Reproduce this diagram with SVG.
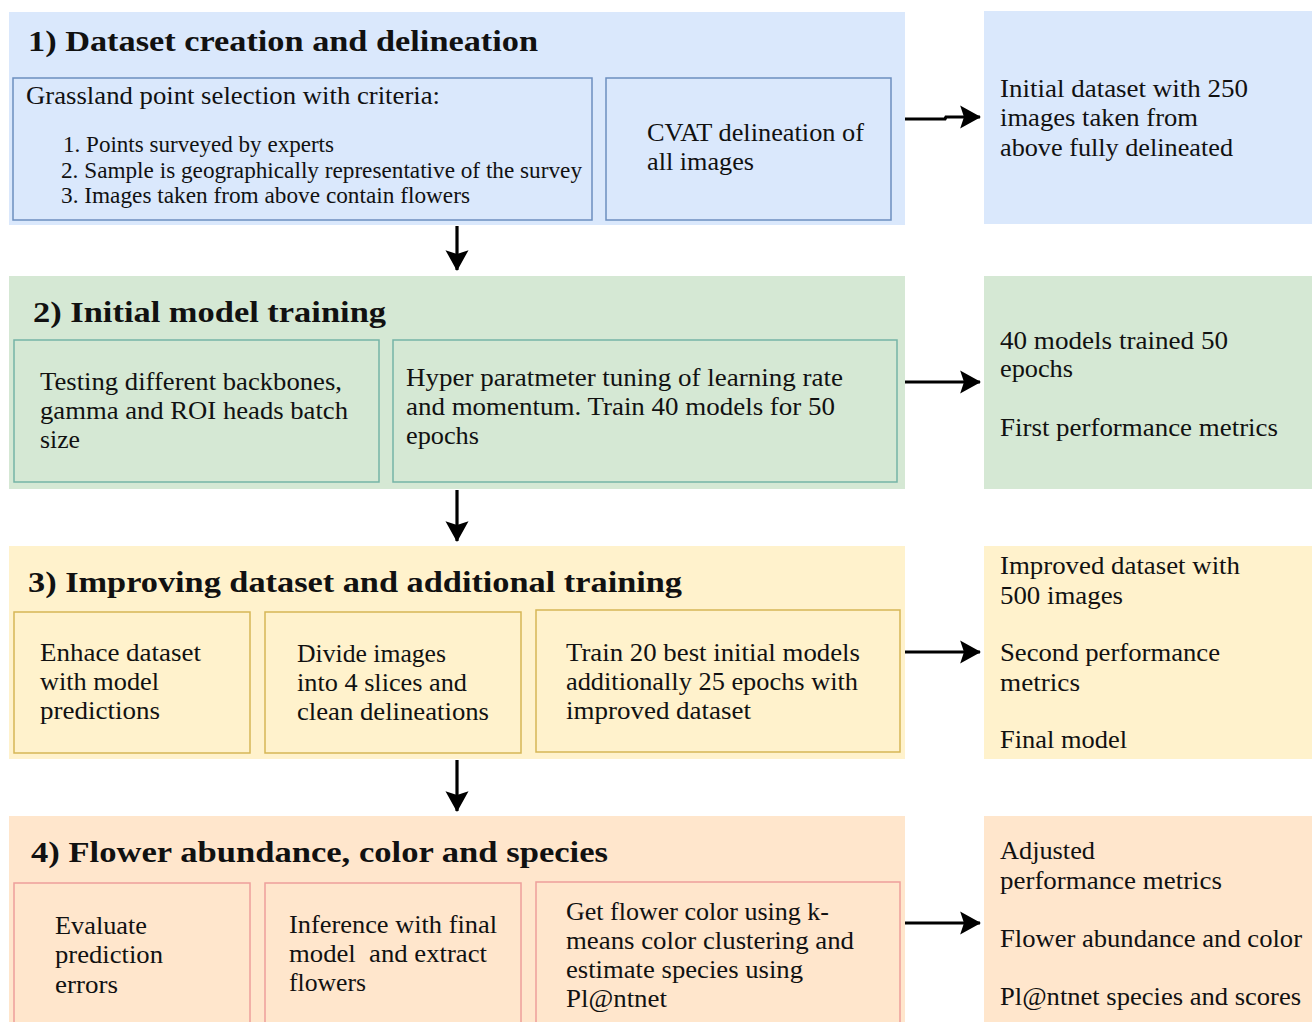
<svg xmlns="http://www.w3.org/2000/svg" width="1312" height="1022" viewBox="0 0 1312 1022">
<style>
text{font-family:"Liberation Serif","DejaVu Serif",serif;fill:#111}
.t{font-size:29.5px;font-weight:bold}
.b{font-size:25px}
.s{font-size:22.5px}
.blue{fill:#dae8fc}
.green{fill:#d5e8d4}
.yellow{fill:#fff2cc}
.orange{fill:#ffe6cc}
.ib{fill:#dae8fc;stroke:#6c8ebf;stroke-width:1.5}
.ig{fill:#d5e8d4;stroke:#75b4a6;stroke-width:1.5}
.iy{fill:#fff2cc;stroke:#d6b656;stroke-width:1.5}
.io{fill:#ffe6cc;stroke:#ee9f9b;stroke-width:1.5}
.c{fill:none;stroke:#000;stroke-width:3.2}
</style>
<defs>
<marker id="ah" markerWidth="8" markerHeight="8" refX="6.2" refY="4" orient="auto" markerUnits="strokeWidth">
<path d="M0,0.4 L6.5,4 L0,7.6 L1.2,4 Z" fill="#000"/>
</marker>
</defs>

<g id="stage1">
<rect class="blue" x="9" y="12" width="896" height="213"/>
<text class="t" x="28" y="51" textLength="510" lengthAdjust="spacingAndGlyphs">1) Dataset creation and delineation</text>
</g>
<g id="criteria">
<rect class="ib" x="13" y="78" width="579" height="142"/>
<text class="b" x="26" y="104" textLength="414" lengthAdjust="spacingAndGlyphs">Grassland point selection with criteria:</text>
<text class="s" x="63" y="152" textLength="271" lengthAdjust="spacingAndGlyphs">1. Points surveyed by experts</text>
<text class="s" x="61" y="178" textLength="521" lengthAdjust="spacingAndGlyphs">2. Sample is geographically representative of the survey</text>
<text class="s" x="61" y="203" textLength="409" lengthAdjust="spacingAndGlyphs">3. Images taken from above contain flowers</text>
</g>
<g id="cvat">
<rect class="ib" x="606" y="78" width="285" height="142"/>
<text class="b" x="647" y="141" textLength="217" lengthAdjust="spacingAndGlyphs">CVAT delineation of</text>
<text class="b" x="647" y="170" textLength="107" lengthAdjust="spacingAndGlyphs">all images</text>
</g>
<g id="out1">
<rect class="blue" x="984" y="11" width="328" height="213"/>
<text class="b" x="1000" y="97" textLength="248" lengthAdjust="spacingAndGlyphs">Initial dataset with 250</text>
<text class="b" x="1000" y="126" textLength="198" lengthAdjust="spacingAndGlyphs">images taken from</text>
<text class="b" x="1000" y="156" textLength="233" lengthAdjust="spacingAndGlyphs">above fully delineated</text>
</g>

<g id="stage2">
<rect class="green" x="9" y="276" width="896" height="213"/>
<text class="t" x="33" y="322" textLength="353" lengthAdjust="spacingAndGlyphs">2) Initial model training</text>
</g>
<g id="backbones">
<rect class="ig" x="14" y="340" width="365" height="142"/>
<text class="b" x="40" y="390" textLength="302" lengthAdjust="spacingAndGlyphs">Testing different backbones,</text>
<text class="b" x="40" y="419" textLength="308" lengthAdjust="spacingAndGlyphs">gamma and ROI heads batch</text>
<text class="b" x="40" y="448" textLength="40" lengthAdjust="spacingAndGlyphs">size</text>
</g>
<g id="hyper">
<rect class="ig" x="393" y="340" width="504" height="142"/>
<text class="b" x="406" y="386" textLength="437" lengthAdjust="spacingAndGlyphs">Hyper paratmeter tuning of learning rate</text>
<text class="b" x="406" y="415" textLength="429" lengthAdjust="spacingAndGlyphs">and momentum. Train 40 models for 50</text>
<text class="b" x="406" y="444" textLength="73" lengthAdjust="spacingAndGlyphs">epochs</text>
</g>
<g id="out2">
<rect class="green" x="984" y="276" width="328" height="213"/>
<text class="b" x="1000" y="349" textLength="228" lengthAdjust="spacingAndGlyphs">40 models trained 50</text>
<text class="b" x="1000" y="377" textLength="73" lengthAdjust="spacingAndGlyphs">epochs</text>
<text class="b" x="1000" y="436" textLength="278" lengthAdjust="spacingAndGlyphs">First performance metrics</text>
</g>

<g id="stage3">
<rect class="yellow" x="9" y="546" width="896" height="213"/>
<text class="t" x="28" y="592" textLength="654" lengthAdjust="spacingAndGlyphs">3) Improving dataset and additional training</text>
</g>
<g id="enhance">
<rect class="iy" x="14" y="612" width="236" height="141"/>
<text class="b" x="40" y="661" textLength="161" lengthAdjust="spacingAndGlyphs">Enhace dataset</text>
<text class="b" x="40" y="690" textLength="119" lengthAdjust="spacingAndGlyphs">with model</text>
<text class="b" x="40" y="719" textLength="120" lengthAdjust="spacingAndGlyphs">predictions</text>
</g>
<g id="divide">
<rect class="iy" x="265" y="612" width="256" height="141"/>
<text class="b" x="297" y="662" textLength="149" lengthAdjust="spacingAndGlyphs">Divide images</text>
<text class="b" x="297" y="691" textLength="170" lengthAdjust="spacingAndGlyphs">into 4 slices and</text>
<text class="b" x="297" y="720" textLength="192" lengthAdjust="spacingAndGlyphs">clean delineations</text>
</g>
<g id="train20">
<rect class="iy" x="536" y="610" width="364" height="142"/>
<text class="b" x="566" y="661" textLength="294" lengthAdjust="spacingAndGlyphs">Train 20 best initial models</text>
<text class="b" x="566" y="690" textLength="292" lengthAdjust="spacingAndGlyphs">additionally 25 epochs with</text>
<text class="b" x="566" y="719" textLength="185" lengthAdjust="spacingAndGlyphs">improved dataset</text>
</g>
<g id="out3">
<rect class="yellow" x="984" y="546" width="328" height="213"/>
<text class="b" x="1000" y="574" textLength="240" lengthAdjust="spacingAndGlyphs">Improved dataset with</text>
<text class="b" x="1000" y="604" textLength="123" lengthAdjust="spacingAndGlyphs">500 images</text>
<text class="b" x="1000" y="661" textLength="220" lengthAdjust="spacingAndGlyphs">Second performance</text>
<text class="b" x="1000" y="691" textLength="80" lengthAdjust="spacingAndGlyphs">metrics</text>
<text class="b" x="1000" y="748" textLength="127" lengthAdjust="spacingAndGlyphs">Final model</text>
</g>

<g id="stage4">
<rect class="orange" x="9" y="816" width="896" height="210"/>
<text class="t" x="31" y="862" textLength="577" lengthAdjust="spacingAndGlyphs">4) Flower abundance, color and species</text>
</g>
<g id="evaluate">
<rect class="io" x="14" y="883" width="236" height="150"/>
<text class="b" x="55" y="934" textLength="92" lengthAdjust="spacingAndGlyphs">Evaluate</text>
<text class="b" x="55" y="963" textLength="108" lengthAdjust="spacingAndGlyphs">prediction</text>
<text class="b" x="55" y="993" textLength="63" lengthAdjust="spacingAndGlyphs">errors</text>
</g>
<g id="inference">
<rect class="io" x="265" y="883" width="256" height="150"/>
<text class="b" x="289" y="933" textLength="208" lengthAdjust="spacingAndGlyphs">Inference with final</text>
<text class="b" x="289" y="962" textLength="198" lengthAdjust="spacingAndGlyphs" xml:space="preserve">model  and extract</text>
<text class="b" x="289" y="991" textLength="77" lengthAdjust="spacingAndGlyphs">flowers</text>
</g>
<g id="color">
<rect class="io" x="536" y="882" width="364" height="150"/>
<text class="b" x="566" y="920" textLength="263" lengthAdjust="spacingAndGlyphs">Get flower color using k-</text>
<text class="b" x="566" y="949" textLength="288" lengthAdjust="spacingAndGlyphs">means color clustering and</text>
<text class="b" x="566" y="978" textLength="237" lengthAdjust="spacingAndGlyphs">estimate species using</text>
<text class="b" x="566" y="1007" textLength="101" lengthAdjust="spacingAndGlyphs">Pl@ntnet</text>
</g>
<g id="out4">
<rect class="orange" x="984" y="816" width="328" height="210"/>
<text class="b" x="1000" y="859" textLength="95" lengthAdjust="spacingAndGlyphs">Adjusted</text>
<text class="b" x="1000" y="889" textLength="222" lengthAdjust="spacingAndGlyphs">performance metrics</text>
<text class="b" x="1000" y="947" textLength="302" lengthAdjust="spacingAndGlyphs">Flower abundance and color</text>
<text class="b" x="1000" y="1005" textLength="301" lengthAdjust="spacingAndGlyphs">Pl@ntnet species and scores</text>
</g>

<g id="connectors">
<path class="c" d="M905,119 L945,119 L946,117 L980,117" marker-end="url(#ah)"/>
<path class="c" d="M457,226 L457,270" marker-end="url(#ah)"/>
<path class="c" d="M905,382 L980,382" marker-end="url(#ah)"/>
<path class="c" d="M457,490 L457,541" marker-end="url(#ah)"/>
<path class="c" d="M905,652 L980,652" marker-end="url(#ah)"/>
<path class="c" d="M457,760 L457,811" marker-end="url(#ah)"/>
<path class="c" d="M905,923 L980,923" marker-end="url(#ah)"/>
</g>
</svg>
